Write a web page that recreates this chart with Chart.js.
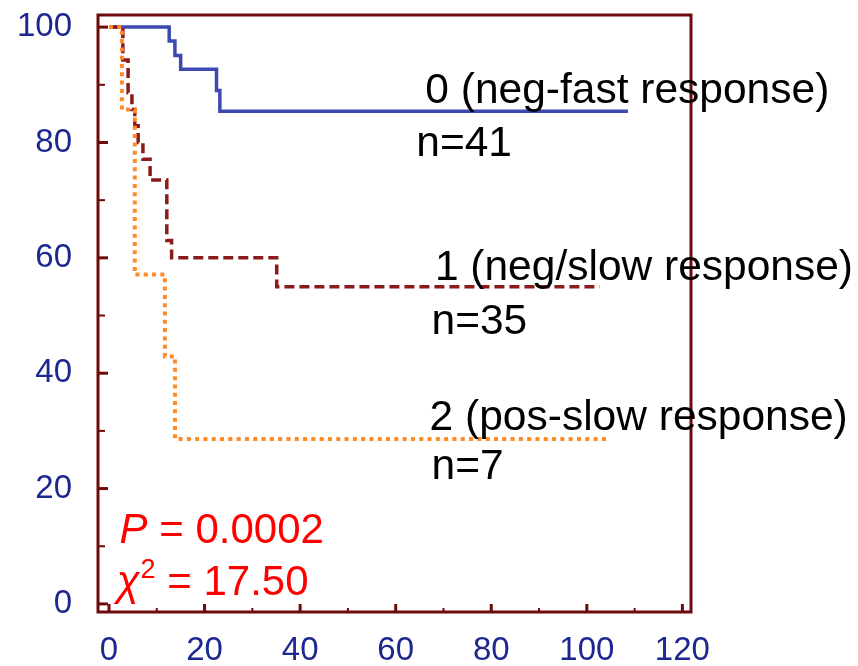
<!DOCTYPE html>
<html>
<head>
<meta charset="utf-8">
<script src="https://cdn.jsdelivr.net/npm/chart.js@4/dist/chart.umd.min.js"></script>
<style>
    html, body { margin: 0; padding: 0; background: #fff; }
    canvas { display: block; }
</style>
</head>
<body>
<canvas id="km" width="858" height="666"></canvas>
<script>
// Kaplan-Meier curves, three response groups
const xTicks = [0, 20, 40, 60, 80, 100, 120];
const yTicks = [0, 20, 40, 60, 80, 100];

const timeFast = [0, 12.6, 13.8, 15.0, 22.5, 23.2, 108.6];
const survFast = [100, 97.6, 95.1, 92.7, 89.0, 85.4, 85.4];

const timeSlow = [0, 2.9, 4.0, 4.8, 5.4, 6.1, 7.1, 8.6, 12.1, 13.1, 35.1, 102.7];
const survSlow = [100, 94.3, 88.6, 85.7, 82.9, 80.0, 77.1, 73.5, 63.0, 60.0, 55.0, 55.0];

const timePos = [0, 2.7, 5.4, 11.7, 13.8, 104.2];
const survPos = [100, 85.7, 57.1, 42.9, 28.6, 28.6];

const groupLabels = ['0 (neg-fast response)', '1 (neg/slow response)', '2 (pos-slow response)'];
const groupN = ['n=41', 'n=35', 'n=7'];
const pText = '0.0002';
const chiText = '17.50';

function pts(t, s) {
    return t.map((v, i) => ({ x: v, y: s[i] }));
}

const FONT = '"Liberation Sans", Arial, sans-serif';
const AXIS_COLOR = '#6e0a0a';
const TICK_COLOR = '#1c278f';

const frame = {
    id: 'frame',
    afterDatasetsDraw(chart) {
        const { ctx, chartArea: a, scales } = chart;
        const xs = scales.x, ys = scales.y;
        ctx.save();
        ctx.strokeStyle = AXIS_COLOR;
        // inner ticks
        for (let v = 0; v <= 100; v += 10) {
            const y = ys.getPixelForValue(v);
            const major = v % 20 === 0;
            ctx.lineWidth = major ? 3 : 2;
            ctx.beginPath();
            ctx.moveTo(a.left, y);
            ctx.lineTo(a.left + (major ? 10 : 7), y);
            ctx.stroke();
        }
        for (let v = 0; v <= 120; v += 10) {
            const x = xs.getPixelForValue(v);
            const major = v % 20 === 0;
            ctx.lineWidth = major ? 3 : 2;
            ctx.beginPath();
            ctx.moveTo(x, a.bottom);
            ctx.lineTo(x, a.bottom - (major ? 8 : 4));
            ctx.stroke();
        }
        ctx.lineWidth = 3;
        ctx.strokeRect(a.left, a.top, a.right - a.left, a.bottom - a.top);

        // group labels
        ctx.fillStyle = '#000';
        ctx.textBaseline = 'alphabetic';
        ctx.textAlign = 'left';
        ctx.font = '42.5px ' + FONT;
        const at = (t, s) => [xs.getPixelForValue(t), ys.getPixelForValue(s)];
        const spots = [[66.2, 86.8], [68.2, 56.2], [67.1, 30.2]];
        const nSpots = [[64.3, 77.6], [67.5, 46.8], [67.5, 21.7]];
        groupLabels.forEach((txt, i) => {
            let [x, y] = at(spots[i][0], spots[i][1]);
            ctx.fillText(txt, x, y);
            [x, y] = at(nSpots[i][0], nSpots[i][1]);
            ctx.fillText(groupN[i], x, y);
        });

        // statistics
        ctx.fillStyle = '#ff0000';
        let [x, y] = at(2.2, 10.6);
        ctx.font = 'italic 42px ' + FONT;
        ctx.fillText('P', x, y);
        x += ctx.measureText('P').width;
        ctx.font = '42px ' + FONT;
        ctx.fillText(' = ' + pText, x, y);

        [x, y] = at(1.6, 1.6);
        ctx.font = 'italic 42px ' + FONT;
        ctx.fillText('\u03c7', x, y);
        x += ctx.measureText('\u03c7').width + 1;
        ctx.font = '27px ' + FONT;
        ctx.fillText('2', x, y - 17);
        x += ctx.measureText('2').width;
        ctx.font = '42px ' + FONT;
        ctx.fillText(' = ' + chiText, x, y);
        ctx.restore();
    }
};

new Chart(document.getElementById('km'), {
    type: 'line',
    data: {
        datasets: [
            { label: 'pos', data: pts(timePos, survPos), borderColor: '#ff8a26', borderWidth: 4, borderDash: [4, 4.3], stepped: 'before', pointRadius: 0, fill: false },
            { label: 'slow', data: pts(timeSlow, survSlow), borderColor: '#8b1a1a', borderWidth: 3.5, borderDash: [10, 5], stepped: 'before', pointRadius: 0, fill: false },
            { label: 'fast', data: pts(timeFast, survFast), borderColor: '#3d48b0', borderWidth: 3.5, stepped: 'before', pointRadius: 0, fill: false }
        ]
    },
    options: {
        responsive: false,
        devicePixelRatio: 1,
        animation: false,
        layout: { padding: { left: 0, top: 15, right: 167, bottom: 0 } },
        plugins: { legend: { display: false }, tooltip: { enabled: false } },
        scales: {
            x: {
                type: 'linear',
                min: -2.3,
                max: 121.8,
                grid: { display: false, drawTicks: false },
                border: { display: false },
                afterBuildTicks: s => { s.ticks = xTicks.map(v => ({ value: v })); },
                afterFit: s => { s.height = 54; s.paddingLeft = 0; s.paddingRight = 0; },
                ticks: { autoSkip: false, maxRotation: 0, padding: 19, color: TICK_COLOR, font: { family: FONT, size: 33 } }
            },
            y: {
                min: -1.4,
                max: 102.1,
                grid: { display: false, drawTicks: false },
                border: { display: false },
                afterBuildTicks: s => { s.ticks = yTicks.map(v => ({ value: v })); },
                afterFit: s => { s.width = 98; s.paddingTop = 0; s.paddingBottom = 0; },
                ticks: { autoSkip: false, padding: 26, color: TICK_COLOR, font: { family: FONT, size: 33 } }
            }
        }
    },
    plugins: [frame]
});
</script>
</body>
</html>
